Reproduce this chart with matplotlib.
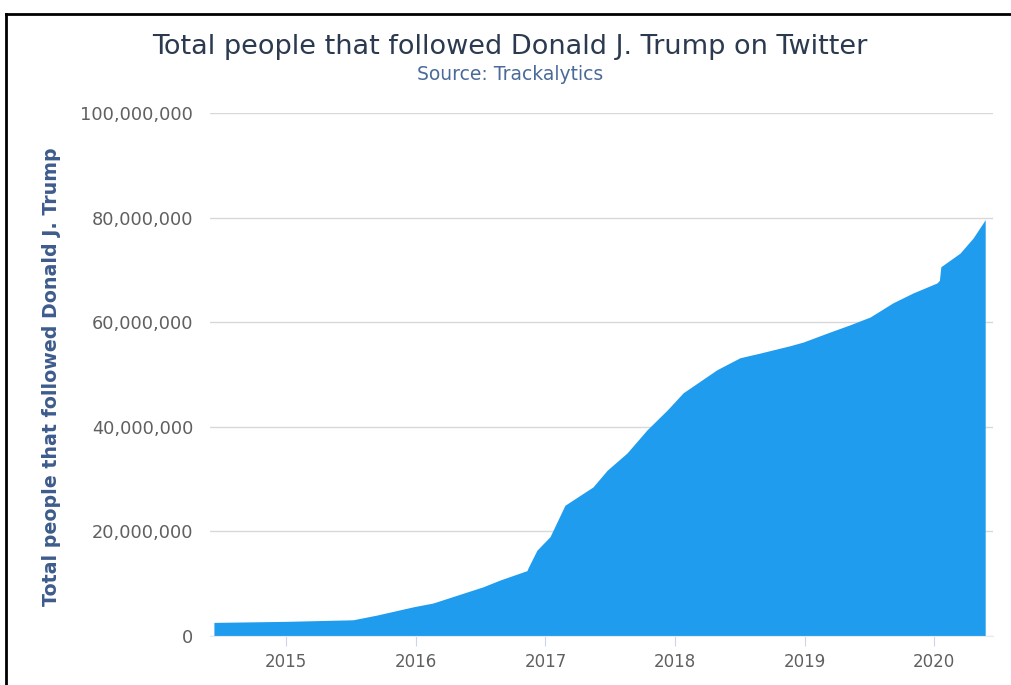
import numpy as np
import pandas as pd
import matplotlib
matplotlib.use("Agg")
from matplotlib import pyplot as plt
from matplotlib import dates as mdates
from matplotlib.ticker import FuncFormatter
from matplotlib.lines import Line2D

# follower counts (millions)
dates = ['2014-06-12', '2015-01-01', '2015-07-09', '2015-09-14', '2015-12-27',
         '2016-02-19', '2016-07-09', '2016-08-26', '2016-11-10', '2016-11-13',
         '2016-11-24', '2016-12-08', '2017-01-14', '2017-02-25', '2017-05-15',
         '2017-06-24', '2017-08-19', '2017-10-14', '2017-12-10', '2018-01-24',
         '2018-04-29', '2018-07-03', '2018-08-29', '2018-11-21', '2018-12-28',
         '2019-03-05', '2019-05-09', '2019-07-05', '2019-09-07', '2019-11-03',
         '2020-01-09', '2020-01-16', '2020-01-20', '2020-03-14', '2020-04-20',
         '2020-05-24']
followers = [2.6, 2.8, 3.1, 4.0, 5.6,
             6.3, 9.4, 10.7, 12.5, 13.0,
             14.5, 16.4, 19.0, 25.0, 28.5,
             31.7, 35.0, 39.4, 43.2, 46.5,
             50.9, 53.2, 54.1, 55.5, 56.2,
             57.9, 59.5, 61.0, 63.7, 65.6,
             67.5, 68.0, 70.6, 73.2, 76.1,
             79.6]

x = pd.to_datetime(dates)
y = np.array(followers) * 1e6

fig = plt.figure(figsize=(10.12, 6.85), dpi=100)
ax = fig.add_axes([210/1012, 1-636/685, 783/1012, 523/685])

ax.fill_between(x, y, 0, color='#209cee', linewidth=0)

ax.set_xlim(pd.Timestamp('2014-06-01'), pd.Timestamp('2020-06-15'))
ax.set_ylim(0, 100e6)
ax.set_yticks(np.arange(0, 100e6 + 1, 20e6))
ax.yaxis.set_major_formatter(FuncFormatter(lambda v, p: f'{int(v):,}'))
ax.xaxis.set_major_locator(mdates.YearLocator())
ax.xaxis.set_major_formatter(mdates.DateFormatter('%Y'))

ax.grid(axis='y', color='#d8d8d8', linewidth=1)
ax.set_axisbelow(True)
for s in ['top', 'right', 'left']:
    ax.spines[s].set_visible(False)
ax.spines['bottom'].set_color('#e6ebf2')
ax.tick_params(axis='y', length=0, pad=12, labelsize=12.8, labelcolor='#606060')
ax.tick_params(axis='x', length=7, color='#ccd6eb', pad=5, labelsize=12, labelcolor='#606060')

ax.set_ylabel('Total people that followed Donald J. Trump', fontsize=13.7,
              color='#3d5b8c', fontweight='bold')
ax.yaxis.set_label_coords(-0.19, 0.495)

fig.text(510/1012, 1-47/685, 'Total people that followed Donald J. Trump on Twitter',
         ha='center', va='center', fontsize=19.5, color='#2b3a4f')
fig.text(510/1012, 1-75/685, 'Source: Trackalytics', ha='center', va='center',
         fontsize=13.5, color='#4a6a9a')

# screenshot frame on the top and left
fig.add_artist(Line2D([6/1012, 6/1012], [0, 1-14/685], color='black', linewidth=2))
fig.add_artist(Line2D([6/1012, 1], [1-14/685, 1-14/685], color='black', linewidth=2))

fig.savefig('out.png', dpi=100)
